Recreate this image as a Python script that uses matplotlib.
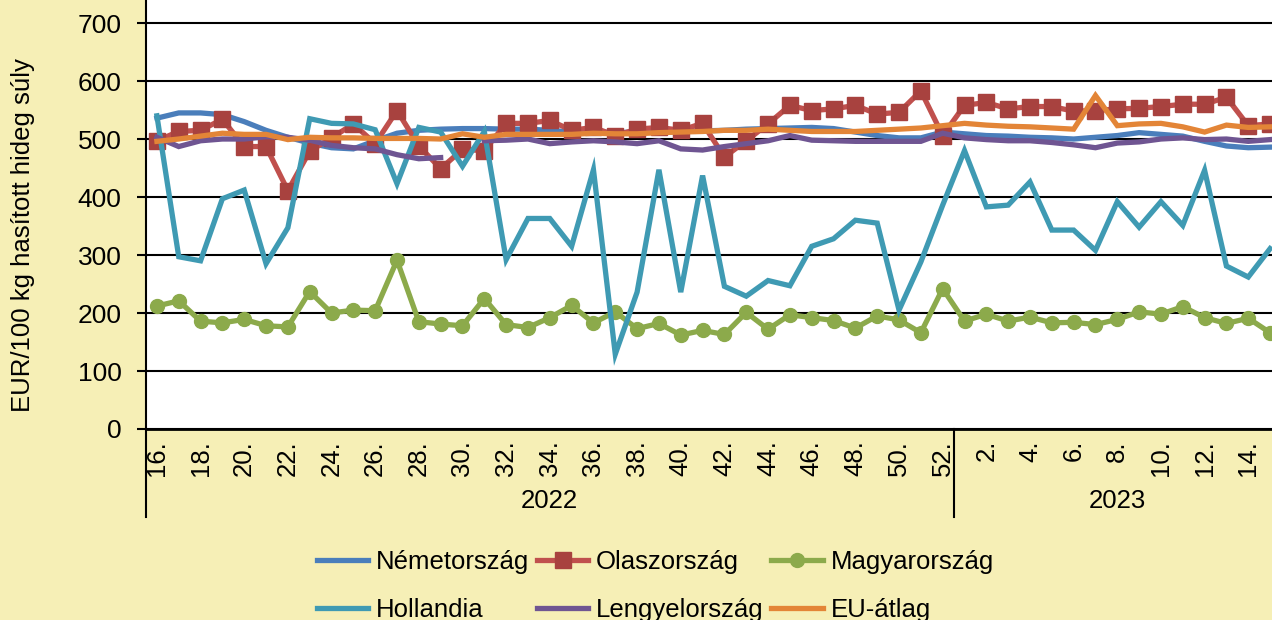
import numpy as np
import matplotlib
matplotlib.use("Agg")
import matplotlib.pyplot as plt
import matplotlib.transforms as mtransforms

plt.rcParams["font.family"] = ["Liberation Sans", "DejaVu Sans"]

# weeks on the category axis
weeks_2022 = list(range(16, 53))
weeks_2023 = list(range(1, 16))
years = ["2022", "2023"]

# EUR/100 kg
nemetorszag = [536, 545, 545, 542, 530, 515, 503, 493, 485, 483,
               497, 510, 515, 517, 518, 518, 517, 517, 515, 512,
               512, 511, 512, 512, 513, 514, 515, 517, 518, 519,
               520, 518, 512, 506, 502, 502, 512, 509, 506, 505,
               503, 502, 500, 503, 506, 511, 508, 505, 496, 488,
               485, 486]
olaszorszag = [497, 513, 515, 534, 487, 487, 411, 479, 502, 526,
               492, 549, 488, 449, 482, 480, 527, 527, 532, 515,
               520, 506, 517, 520, 515, 527, 469, 497, 526, 558,
               549, 552, 558, 543, 546, 583, 506, 558, 563, 552,
               556, 556, 548, 549, 552, 553, 556, 560, 560, 572,
               523, 526]
magyarorszag = [212, 221, 186, 183, 189, 178, 176, 237, 200, 205,
                204, 291, 185, 181, 178, 225, 180, 175, 192, 213,
                183, 202, 173, 182, 162, 170, 163, 201, 172, 197,
                192, 187, 174, 195, 188, 166, 242, 186, 198, 186,
                193, 183, 184, 180, 189, 202, 198, 211, 192, 182,
                191, 166]
hollandia = [540, 297, 290, 397, 412, 285, 347, 535, 527, 526,
             516, 423, 520, 512, 453, 513, 292, 363, 363, 315,
             447, 129, 236, 447, 236, 437, 246, 229, 256, 247,
             315, 328, 360, 355, 205, 288, 386, 480, 383, 386,
             426, 343, 343, 308, 392, 348, 392, 351, 446, 281,
             262, 311]
lengyelorszag = [503, 487, 497, 500, 500, 504, 503, 498, 489, 485,
                 483, 473, 466, 468, np.nan, 497, 498, 500, 492, 495,
                 497, 495, 492, 497, 483, 481, 487, 492, 497, 506,
                 498, 497, 496, 496, 496, 496, 510, 502, 499, 497,
                 497, 494, 490, 485, 493, 495, 500, 502, 499, 500,
                 496, 499]
eu_atlag = [496, 500, 505, 510, 508, 508, 499, 503, 502, 502,
            501, 501, 501, 500, 509, 503, 508, 508, 508, 508,
            510, 509, 509, 511, 512, 513, 515, 515, 517, 515,
            513, 513, 513, 515, 517, 519, 523, 527, 524, 522,
            521, 519, 517, 575, 523, 526, 527, 521, 512, 524,
            520, 521]

bg = "#F6EFB6"
W, H = 1272, 620

fig = plt.figure(figsize=(W / 100, H / 100), dpi=100, facecolor=bg)
ax = fig.add_axes([146 / W, 191 / H, 1135 / W, 429 / H])
ax.set_facecolor("white")

weeks = weeks_2022 + weeks_2023
x = np.arange(len(weeks))

lw = 3.8
series = [
    ("Németország", nemetorszag, dict(color="#4A7EBB")),
    ("Olaszország", olaszorszag, dict(color="#C0504D", marker="s", markersize=11.5,
                                      markerfacecolor="#A8423F", markeredgecolor="#A8423F")),
    ("Magyarország", magyarorszag, dict(color="#8CAA4B", marker="o", markersize=10)),
    ("Hollandia", hollandia, dict(color="#3F9AB3")),
    ("Lengyelország", lengyelorszag, dict(color="#6F5592")),
    ("EU-átlag", eu_atlag, dict(color="#E38537")),
]

handles = []
for name, vals, style in series:
    h, = ax.plot(x, vals, lw=lw, label=name, solid_joinstyle="miter", **style)
    handles.append(h)

ax.set_xlim(-0.5, len(weeks) - 0.5)
ax.set_ylim(0, 739.7)
ax.set_yticks(range(0, 701, 100))
ax.grid(axis="y", color="black", lw=1.5)
ax.set_axisbelow(True)

for s in ["top", "right"]:
    ax.spines[s].set_visible(False)
ax.spines["left"].set_linewidth(1.5)
ax.spines["bottom"].set_linewidth(2)

# only even weeks get a label
ticks = [i for i, w in enumerate(weeks) if w % 2 == 0]
ax.set_xticks(ticks)
ax.set_xticklabels([f"{weeks[i]}." for i in ticks], rotation=90)
ax.tick_params(axis="x", length=0, pad=8, labelsize=18.5)
ax.tick_params(axis="y", length=6.5, width=1.5, pad=11, labelsize=19)

# year groups under the week labels
trans = mtransforms.blended_transform_factory(ax.transData, ax.transAxes)
n22 = len(weeks_2022)
ax.text((n22 - 1) / 2, -0.168, years[0], transform=trans, ha="center", va="center", fontsize=18.5)
ax.text(n22 + (len(weeks_2023) - 1) / 2, -0.168, years[1], transform=trans,
        ha="center", va="center", fontsize=18.5)
for xs in [-0.5, n22 - 0.5]:
    ax.plot([xs, xs], [0, -0.205], transform=trans, color="black", lw=1.5, clip_on=False)

fig.text(23 / W, 1 - 235 / H, "EUR/100 kg hasított hideg súly", rotation=90,
         ha="center", va="center", fontsize=18.5)

# legend filled row by row
order = [0, 3, 1, 4, 2, 5]
fig.legend([handles[i] for i in order], [series[i][0] for i in order], ncol=3,
           loc="upper left", bbox_to_anchor=(317 / W, 1 - 550 / H), frameon=False,
           fontsize=18.5, handlelength=2.0, handletextpad=0.3, columnspacing=0.3,
           labelspacing=0.95, borderpad=0, borderaxespad=0)

fig.savefig("out.png", dpi=100, facecolor=bg)
